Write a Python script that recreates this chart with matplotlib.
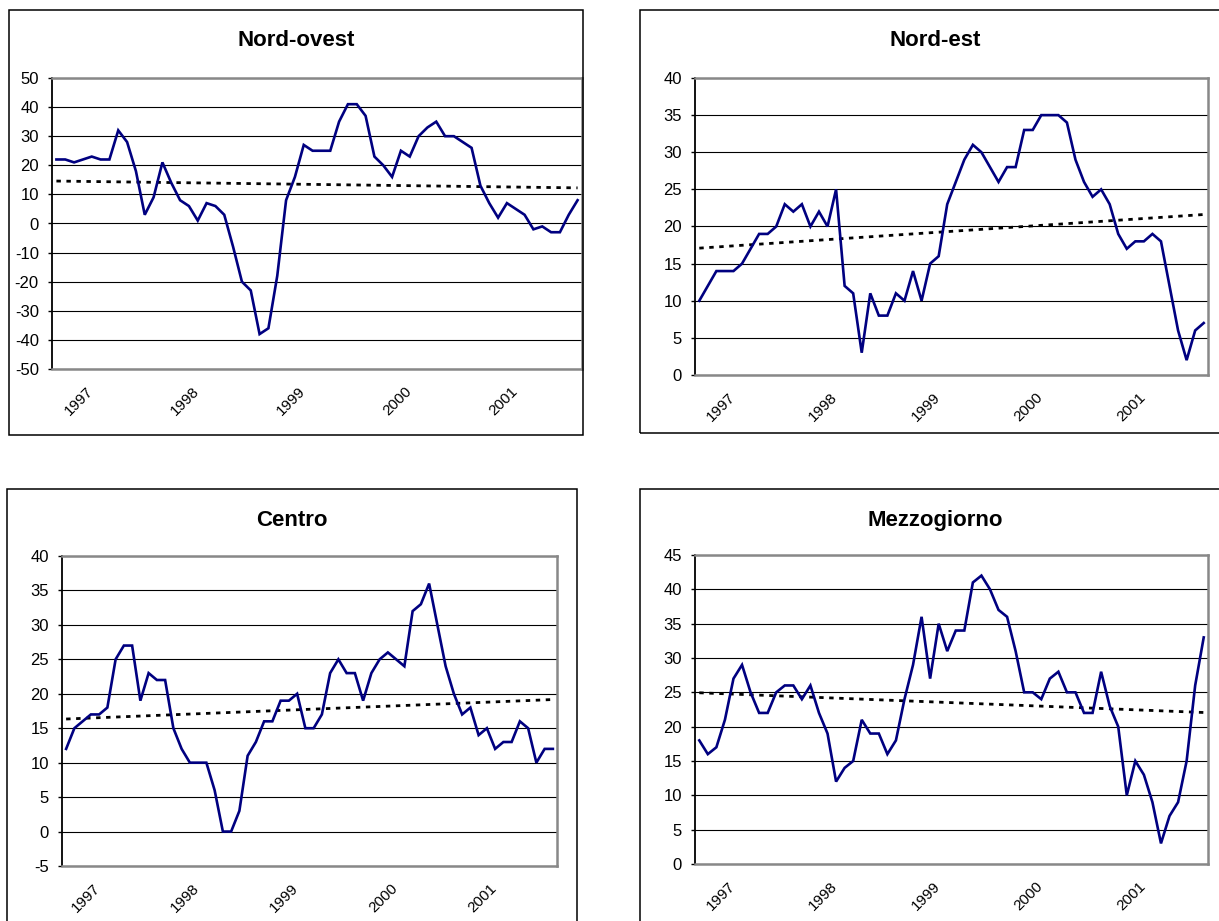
import numpy as np
import matplotlib
matplotlib.use("Agg")
import matplotlib.pyplot as plt
from matplotlib.patches import Rectangle

plt.rcParams['font.family'] = ['Liberation Sans', 'DejaVu Sans']
plt.rcParams['axes.unicode_minus'] = False

# monthly values, 60 points per area
nord_ovest = [22, 22, 21, 22, 23, 22, 22, 32, 28, 18, 3, 9, 21, 14, 8, 6, 1, 7, 6, 3,
              -8, -20, -23, -38, -36, -18, 8, 16, 27, 25, 25, 25, 35, 41, 41, 37, 23, 20, 16, 25,
              23, 30, 33, 35, 30, 30, 28, 26, 13, 7, 2, 7, 5, 3, -2, -1, -3, -3, 3, 8]
nord_est = [10, 12, 14, 14, 14, 15, 17, 19, 19, 20, 23, 22, 23, 20, 22, 20, 25, 12, 11, 3,
            11, 8, 8, 11, 10, 14, 10, 15, 16, 23, 26, 29, 31, 30, 28, 26, 28, 28, 33, 33,
            35, 35, 35, 34, 29, 26, 24, 25, 23, 19, 17, 18, 18, 19, 18, 12, 6, 2, 6, 7]
centro = [12, 15, 16, 17, 17, 18, 25, 27, 27, 19, 23, 22, 22, 15, 12, 10, 10, 10, 6, 0,
          0, 3, 11, 13, 16, 16, 19, 19, 20, 15, 15, 17, 23, 25, 23, 23, 19, 23, 25, 26,
          25, 24, 32, 33, 36, 30, 24, 20, 17, 18, 14, 15, 12, 13, 13, 16, 15, 10, 12, 12]
mezzogiorno = [18, 16, 17, 21, 27, 29, 25, 22, 22, 25, 26, 26, 24, 26, 22, 19, 12, 14, 15, 21,
               19, 19, 16, 18, 24, 29, 36, 27, 35, 31, 34, 34, 41, 42, 40, 37, 36, 31, 25, 25,
               24, 27, 28, 25, 25, 22, 22, 28, 23, 20, 10, 15, 13, 9, 3, 7, 9, 15, 26, 33]

titoli = ['Nord-ovest', 'Nord-est', 'Centro', 'Mezzogiorno']
anni = ['1997', '1998', '1999', '2000', '2001']
pos_anni = [4.5, 16.5, 28.5, 40.5, 52.5]

W, H = 1219, 921
fig = plt.figure(figsize=(W/100, H/100), dpi=100)

# pixel layout: plot area (left, right, top, bottom), frame (x0, y0, x1, y1), title (x, y), y limits, step
pannelli = [
    (nord_ovest, (52, 582, 78, 369), (9, 10, 583, 435), (296, 40), (-50, 50), 10),
    (nord_est, (695, 1208, 78, 375), (640, 10, 1240, 433), (935, 40), (0, 40), 5),
    (centro, (62, 557, 556, 866), (7, 489, 577, 940), (292, 520), (-5, 40), 5),
    (mezzogiorno, (695, 1208, 555, 864), (640, 489, 1240, 940), (935, 520), (0, 45), 5),
]

for (dati, pa, fr, tp, yl, step), tit in zip(pannelli, titoli):
    # cornice del grafico
    fig.patches.append(Rectangle((fr[0]/W, 1-fr[3]/H), (fr[2]-fr[0])/W, (fr[3]-fr[1])/H,
                                 transform=fig.transFigure, fill=False, ec='black', lw=1.1))
    fig.text(tp[0]/W, 1-tp[1]/H, tit, ha='center', va='center', fontsize=16, fontweight='bold')

    ax = fig.add_axes([pa[0]/W, 1-pa[3]/H, (pa[1]-pa[0])/W, (pa[3]-pa[2])/H])
    y = np.array(dati, dtype=float)
    x = np.arange(len(y))
    ax.plot(x, y, color='#000080', lw=1.9, zorder=3, solid_joinstyle='miter')
    k = np.polyfit(x, y, 1)  # tendenza lineare
    ax.plot(x, np.polyval(k, x), color='black', lw=2.0, ls=(0, (1.6, 2.0)),
            dash_capstyle='butt', zorder=2)

    ax.set_xlim(-0.5, len(y)-0.5)
    ax.set_ylim(*yl)
    ax.set_yticks(np.arange(yl[0], yl[1]+0.1, step))
    ax.set_xticks(pos_anni)
    ax.set_xticklabels(anni, rotation=45, ha='right', va='top', fontsize=11)
    ax.tick_params(axis='x', length=0, pad=11)
    ax.tick_params(axis='y', direction='out', length=3, width=1, labelsize=12, pad=6.5)
    ax.yaxis.grid(True, color='black', lw=0.8)
    ax.set_axisbelow(True)
    for s in ['top', 'right', 'bottom']:
        ax.spines[s].set_color('#888888')
        ax.spines[s].set_linewidth(1.8)
    ax.spines['left'].set_color('black')
    ax.spines['left'].set_linewidth(1.3)

fig.savefig('out.png', dpi=100)
